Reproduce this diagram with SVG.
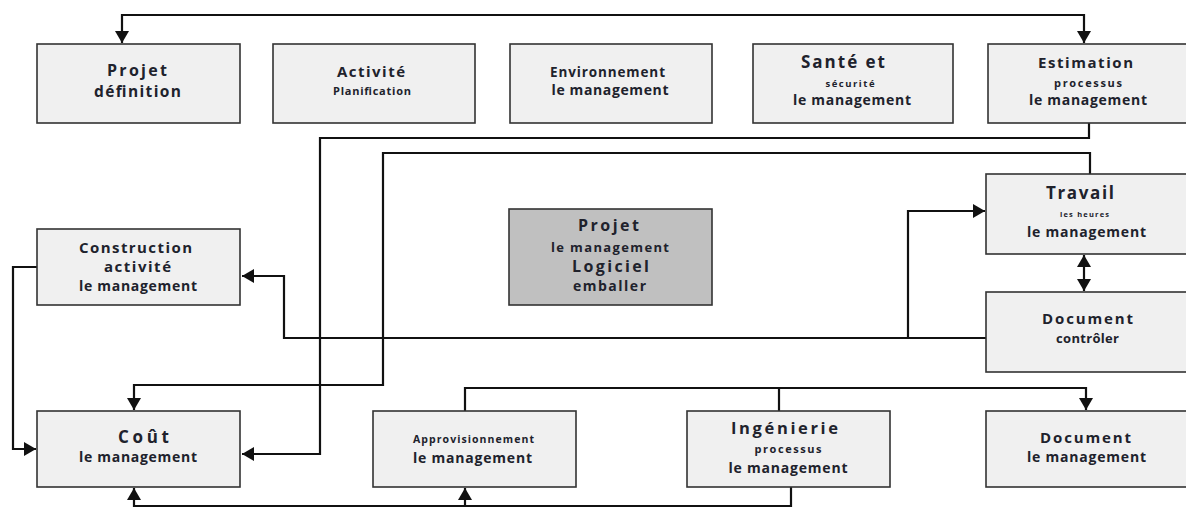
<svg xmlns="http://www.w3.org/2000/svg" width="1186" height="508" viewBox="0 0 1186 508">
  <style>
    .box { fill: #f0f0f0; stroke: #333; stroke-width: 1.6; }
    .box.main { fill: #c0c0c0; }
    .t { font-family: "Open Sans", "Noto Sans", "DejaVu Sans", sans-serif; font-weight: bold; fill: #20222c; text-anchor: middle; }
    .link { fill: none; stroke: #111; stroke-width: 2.2; }
  </style>
  <defs>
    <marker id="arr" viewBox="0 0 12 14" refX="12" refY="7" markerWidth="12" markerHeight="14" markerUnits="userSpaceOnUse" orient="auto-start-reverse">
      <path d="M0,0 L12,7 L0,14 z" fill="#111"/>
    </marker>
  </defs>
  <rect width="1186" height="508" fill="#fff"/>

  <!-- connectors -->
  <g id="connectors">
    <path class="link" d="M122,43 V15 H1084 V43" marker-start="url(#arr)" marker-end="url(#arr)"/>
    <path class="link" d="M1089,123 V138 H320 V454 H242" marker-end="url(#arr)"/>
    <path class="link" d="M1090,174 V153 H383 V385 H134 V410" marker-end="url(#arr)"/>
    <path class="link" d="M986,338 H284 V276 H242" marker-end="url(#arr)"/>
    <path class="link" d="M908,338 V211 H985" marker-end="url(#arr)"/>
    <path class="link" d="M37,267 H13 V449 H36" marker-end="url(#arr)"/>
    <path class="link" d="M1084,255 V291" marker-start="url(#arr)" marker-end="url(#arr)"/>
    <path class="link" d="M465,411 V388 H1086 V410" marker-end="url(#arr)"/>
    <path class="link" d="M779,411 V388"/>
    <path class="link" d="M791,487 V506 H134 V488" marker-end="url(#arr)"/>
    <path class="link" d="M465,506 V488" marker-end="url(#arr)"/>
  </g>

  <!-- top row -->
  <g id="projet-definition">
    <rect class="box" x="37" y="44" width="203" height="79"/>
    <text class="t" x="137" y="76" font-size="16" textLength="60">Projet</text>
    <text class="t" x="137.5" y="97" font-size="15.5" textLength="87">définition</text>
  </g>
  <g id="activite-planification">
    <rect class="box" x="273" y="44" width="202" height="79"/>
    <text class="t" x="371" y="77" font-size="15" textLength="68">Activité</text>
    <text class="t" x="372" y="95" font-size="11" textLength="78">Planification</text>
  </g>
  <g id="environnement">
    <rect class="box" x="510" y="44" width="202" height="79"/>
    <text class="t" x="607.5" y="77" font-size="13.5" textLength="115">Environnement</text>
    <text class="t" x="610" y="95" font-size="14" textLength="117">le management</text>
  </g>
  <g id="sante-securite">
    <rect class="box" x="753" y="44" width="200" height="79"/>
    <text class="t" x="843" y="68" font-size="17" textLength="84">Santé et</text>
    <text class="t" x="850" y="87" font-size="9.5" textLength="49">sécurité</text>
    <text class="t" x="852" y="105" font-size="14" textLength="118">le management</text>
  </g>
  <g id="estimation">
    <rect class="box" x="988" y="44" width="204" height="79"/>
    <text class="t" x="1085.5" y="68" font-size="15" textLength="95">Estimation</text>
    <text class="t" x="1088" y="87" font-size="11" textLength="68">processus</text>
    <text class="t" x="1088" y="105" font-size="14" textLength="118">le management</text>
  </g>

  <!-- middle row -->
  <g id="construction">
    <rect class="box" x="37" y="229" width="203" height="76"/>
    <text class="t" x="135.5" y="253" font-size="15" textLength="113">Construction</text>
    <text class="t" x="137.5" y="272" font-size="15" textLength="67">activité</text>
    <text class="t" x="138" y="291" font-size="14" textLength="118">le management</text>
  </g>
  <g id="projet-logiciel">
    <rect class="box main" x="509" y="209" width="203" height="96"/>
    <text class="t" x="608.5" y="231" font-size="16" textLength="61">Projet</text>
    <text class="t" x="610" y="252" font-size="13" textLength="118">le management</text>
    <text class="t" x="610.5" y="272" font-size="16" textLength="77">Logiciel</text>
    <text class="t" x="609.5" y="291" font-size="14" textLength="73">emballer</text>
  </g>
  <g id="travail">
    <rect class="box" x="986" y="174" width="204" height="80"/>
    <text class="t" x="1080" y="199" font-size="17" textLength="68">Travail</text>
    <text class="t" x="1084.5" y="217" font-size="7.5" textLength="49">les heures</text>
    <text class="t" x="1086.5" y="237" font-size="14" textLength="119">le management</text>
  </g>
  <g id="document-controle">
    <rect class="box" x="986" y="292" width="204" height="80"/>
    <text class="t" x="1087.5" y="324" font-size="15" textLength="91">Document</text>
    <text class="t" x="1087.5" y="343" font-size="13" textLength="63">contrôler</text>
  </g>

  <!-- bottom row -->
  <g id="cout">
    <rect class="box" x="37" y="411" width="203" height="76"/>
    <text class="t" x="143.5" y="443" font-size="17" textLength="51">Coût</text>
    <text class="t" x="138" y="462" font-size="14" textLength="118">le management</text>
  </g>
  <g id="approvisionnement">
    <rect class="box" x="373" y="411" width="203" height="76"/>
    <text class="t" x="473.5" y="443" font-size="10.5" textLength="121">Approvisionnement</text>
    <text class="t" x="472.5" y="463" font-size="14" textLength="119">le management</text>
  </g>
  <g id="ingenierie">
    <rect class="box" x="687" y="411" width="203" height="76"/>
    <text class="t" x="784.5" y="434" font-size="16.5" textLength="107">Ingénierie</text>
    <text class="t" x="788" y="453" font-size="11" textLength="67">processus</text>
    <text class="t" x="788" y="473" font-size="14" textLength="119">le management</text>
  </g>
  <g id="document-management">
    <rect class="box" x="986" y="411" width="204" height="76"/>
    <text class="t" x="1085.5" y="443" font-size="15" textLength="91">Document</text>
    <text class="t" x="1086.5" y="462" font-size="14" textLength="119">le management</text>
  </g>
</svg>
